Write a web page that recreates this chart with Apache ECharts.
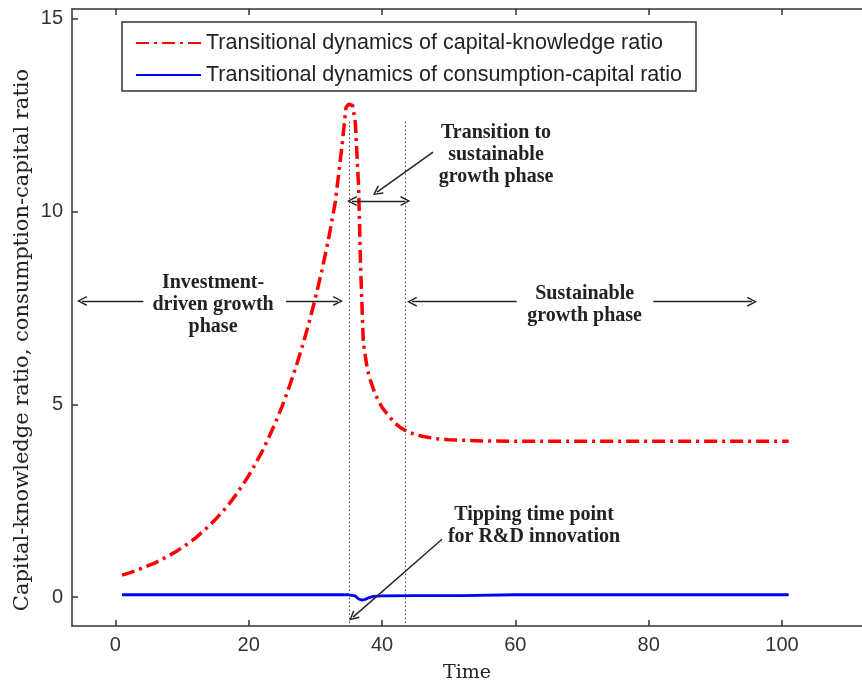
<!DOCTYPE html>
<html><head><meta charset="utf-8">
<script src="https://cdn.jsdelivr.net/npm/echarts@6/dist/echarts.min.js"></script>
<style>html,body{margin:0;padding:0;background:#fff}#c{width:862px;height:684px}</style>
</head><body><div id="c"></div>
<script>
// ---- data ----
const seriesNames = ['Transitional dynamics of capital-knowledge ratio', 'Transitional dynamics of consumption-capital ratio'];
const kTime = [1,2,3,4,5,6,7,8,9,10,11,12,13,14,15,16,17,18,19,20,21,22,23,24,25,26,27,28,29,30,31,32,33,34,34.6,35,35.6,36,36.5,36.8,37.2,37.8,38.3,39,40,41,42,43,44,46,48,50,55,60,70,80,90,101];
const kValues = [0.57,0.62,0.68,0.75,0.82,0.89,0.98,1.07,1.17,1.28,1.40,1.53,1.68,1.84,2.01,2.20,2.40,2.63,2.88,3.15,3.45,3.77,4.13,4.52,4.94,5.41,5.92,6.47,7.08,7.75,8.48,9.30,10.25,11.7,12.7,12.78,12.75,12.3,10.6,8.5,6.6,5.9,5.6,5.25,4.92,4.7,4.5,4.37,4.27,4.17,4.11,4.08,4.05,4.04,4.04,4.04,4.04,4.04];
const cTime = [1,20,35,36,36.5,37,37.5,38,38.7,40,45,52,60,80,101];
const cValues = [0.06,0.06,0.06,0.03,-0.05,-0.08,-0.06,-0.02,0.02,0.03,0.04,0.04,0.06,0.06,0.06];
const xTicks = [0,20,40,60,80,100];
const yTicks = [0,5,10,15];
const phaseBounds = [35.1, 43.5];          // dotted vertical lines (time)
const phaseBoundTop = 12.33;
// annotation arrows: [x0,y0,x1,y1,twoHeaded]
const arrows = [
  [47.65,11.54,39.25,10.5,false],
  [35.5,10.27,43.5,10.27,true],
  [4.2,7.68,-5.0,7.68,false],
  [25.6,7.68,33.4,7.68,false],
  [60.2,7.66,44.5,7.66,false],
  [80.7,7.66,95.5,7.66,false],
  [49.0,1.5,35.65,-0.52,false]
];
const notes = [
  {text:'Transition to\nsustainable\ngrowth phase', t:57.1, v:11.46},
  {text:'Investment-\ndriven growth\nphase', t:14.66, v:7.57},
  {text:'Sustainable\ngrowth phase', t:70.4, v:7.59},
  {text:'Tipping time point\nfor R&D innovation', t:62.8, v:1.84}
];
const xName = 'Time';
const yName = 'Capital-knowledge ratio, consumption-capital ratio';

// ---- chart ----
const chevron = 'path://M5,0 L10,10 L8.6,10.6 L5,3 L1.4,10.6 L0,10 Z';
const axisCol = '#333';
const chart = echarts.init(document.getElementById('c'));
const arrowData = arrows.map(a => {
  return [{coord:[a[0],a[1]], symbol: a[4] ? chevron : 'none'}, {coord:[a[2],a[3]], symbol: chevron}];
});
const boundData = phaseBounds.map(b => [{coord:[b, phaseBoundTop]}, {coord:[b, -0.75]}]);
const option = {
  animation:false,
  backgroundColor:'#fff',
  grid:{left:72, right:0, top:9, bottom:58, outerBoundsMode:'none', containLabel:false},
  legend:{
    left:130, top:27, orient:'vertical', itemWidth:65, itemHeight:12, itemGap:10,
    textStyle:{fontFamily:'Liberation Sans', fontSize:21.5, color:'#222'},
    itemStyle:{opacity:0},
    data:seriesNames
  },
  xAxis:[{
    type:'value', min:-6.5, max:112, position:'bottom',
    name:xName, nameLocation:'middle', nameGap:38,
    nameTextStyle:{fontFamily:'DejaVu Serif', fontSize:19, color:'#222'},
    axisLine:{onZero:false, lineStyle:{color:axisCol, width:1.5}},
    axisTick:{inside:true, length:6, customValues:xTicks, lineStyle:{color:axisCol, width:1.5}},
    axisLabel:{customValues:xTicks, fontFamily:'Liberation Sans', fontSize:20, color:'#333', margin:9},
    splitLine:{show:false}
  },{
    type:'value', min:-6.5, max:112, position:'top',
    axisLine:{onZero:false, lineStyle:{color:axisCol, width:1.5}},
    axisTick:{inside:true, length:6, customValues:xTicks, lineStyle:{color:axisCol, width:1.5}},
    axisLabel:{show:false}, splitLine:{show:false}
  }],
  yAxis:{
    type:'value', min:-0.75, max:15.25,
    axisLine:{show:true, onZero:false, lineStyle:{color:axisCol, width:1.5}},
    axisTick:{show:true, inside:true, length:6, customValues:yTicks, lineStyle:{color:axisCol, width:1.5}},
    axisLabel:{customValues:yTicks, fontFamily:'Liberation Sans', fontSize:20, color:'#333', margin:9},
    splitLine:{show:false}
  },
  series:[{
    name:seriesNames[0], type:'line', xAxisIndex:0, symbol:'none', smooth:false,
    data:kTime.map((t,i)=>[t,kValues[i]]),
    lineStyle:{color:'#ff0000', width:3.5, type:[13,5,3,5]},
    itemStyle:{color:'#ff0000'},
    markLine:{
      silent:true, animation:false, label:{show:false},
      symbolSize:[10,10],
      lineStyle:{color:'#222', width:1.4, type:'solid'},
      itemStyle:{color:'#222'},
      data:arrowData
    },
    z:3
  },{
    name:seriesNames[1], type:'line', xAxisIndex:0, symbol:'none',
    data:cTime.map((t,i)=>[t,cValues[i]]),
    lineStyle:{color:'#0000ff', width:2.8},
    itemStyle:{color:'#0000ff'},
    markLine:{
      silent:true, animation:false, label:{show:false}, symbol:['none','none'],
      lineStyle:{color:'#444', width:1, type:[1.5,2.5]},
      data:boundData
    },
    z:2
  }]
};
chart.setOption(option);
const gfx = [{
  type:'rect', shape:{x:122, y:22, width:574, height:69},
  style:{fill:'none', stroke:'#333', lineWidth:1.5}, z:-1
},{
  type:'text', x:23, y:340, rotation:Math.PI/2,
  style:{text:yName, font:'21px "DejaVu Serif"', fill:'#222', textAlign:'center', textVerticalAlign:'middle'}
}];
notes.forEach(n => {
  const p = chart.convertToPixel({xAxisIndex:0, yAxisIndex:0}, [n.t, n.v]);
  gfx.push({type:'text', x:p[0], y:p[1],
    style:{text:n.text, font:'bold 20px "Liberation Serif"', fill:'#222', textAlign:'center', textVerticalAlign:'middle', lineHeight:22}});
});
chart.setOption({graphic:gfx});
</script></body></html>
